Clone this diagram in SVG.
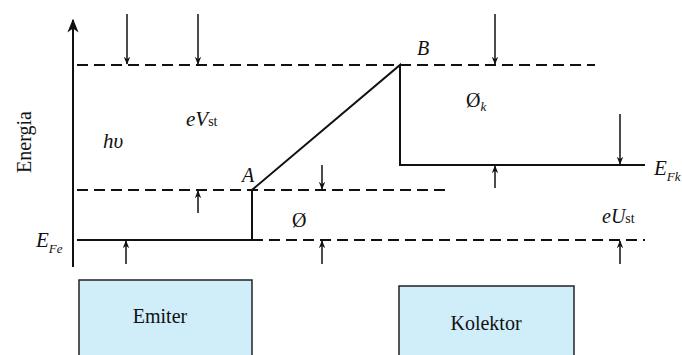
<svg xmlns="http://www.w3.org/2000/svg" width="682" height="355" viewBox="0 0 682 355">
<style>
.s{stroke:#111;stroke-width:2;fill:none}
.d{stroke:#111;stroke-width:2;fill:none;stroke-dasharray:11 6}
.a{stroke:#111;stroke-width:1.5;fill:none}
.t{fill:#111;font-family:'Liberation Serif','Times New Roman',Times,'DejaVu Serif',serif}
.i{font-style:italic}
.box{fill:#cfeefa;stroke:#222;stroke-width:1.5}
</style>
<defs>
<marker id="ah" viewBox="0 0 10 10" refX="9" refY="5" markerWidth="8" markerHeight="8" markerUnits="userSpaceOnUse" orient="auto"><path d="M0,1 L10,5 L0,9 L3,5 Z" fill="#111"/></marker>
<marker id="big" viewBox="0 0 10 10" refX="9" refY="5" markerWidth="14" markerHeight="14" markerUnits="userSpaceOnUse" orient="auto"><path d="M0,1 L10,5 L0,9 L3,5 Z" fill="#111"/></marker>
</defs>
<g id="axis">
<line class="s" x1="73" y1="267" x2="73" y2="20" marker-end="url(#big)"/>
<text class="t" font-size="20" transform="translate(31,142) rotate(-90)" text-anchor="middle">Energia</text>
</g>
<g id="levels">
<line class="d" x1="77" y1="65" x2="595" y2="65"/>
<line class="d" x1="77" y1="190" x2="445" y2="190"/>
<line class="d" x1="252" y1="240" x2="645" y2="240"/>
<polyline class="s" points="77,240 252,240 252,190 400,65 400,165 645,165"/>
</g>
<g id="connectors">
<line class="a" x1="127" y1="14" x2="127" y2="64" marker-end="url(#ah)"/>
<line class="a" x1="198" y1="14" x2="198" y2="64" marker-end="url(#ah)"/>
<line class="a" x1="495" y1="14" x2="495" y2="64" marker-end="url(#ah)"/>
<line class="a" x1="620" y1="114" x2="620" y2="164" marker-end="url(#ah)"/>
<line class="a" x1="322" y1="165" x2="322" y2="189" marker-end="url(#ah)"/>
<line class="a" x1="198" y1="213" x2="198" y2="191" marker-end="url(#ah)"/>
<line class="a" x1="495" y1="188" x2="495" y2="166" marker-end="url(#ah)"/>
<line class="a" x1="126" y1="264" x2="126" y2="241" marker-end="url(#ah)"/>
<line class="a" x1="322" y1="264" x2="322" y2="241" marker-end="url(#ah)"/>
<line class="a" x1="620" y1="264" x2="620" y2="241" marker-end="url(#ah)"/>
</g>
<g id="labels">
<text class="t i" x="103" y="148" font-size="21">hυ</text>
<text class="t" x="186" y="126" font-size="21"><tspan class="i">eV</tspan><tspan font-size="14">st</tspan></text>
<text class="t i" x="242" y="182" font-size="20">A</text>
<text class="t i" x="417" y="55" font-size="20">B</text>
<text class="t" x="292" y="227" font-size="20">Ø</text>
<text class="t" x="466" y="107" font-size="20">Ø<tspan class="i" font-size="13" dy="4">k</tspan></text>
<text class="t i" x="36" y="247" font-size="21">E<tspan font-size="13" dy="6">Fe</tspan></text>
<text class="t i" x="654" y="175" font-size="21">E<tspan font-size="13" dy="6">Fk</tspan></text>
<text class="t" x="602" y="223" font-size="20"><tspan class="i">eU</tspan><tspan font-size="14">st</tspan></text>
</g>
<g id="emiter">
<rect class="box" x="79" y="280" width="173" height="80"/>
<text class="t" x="160" y="323" font-size="20" text-anchor="middle">Emiter</text>
</g>
<g id="kolektor">
<rect class="box" x="399" y="286" width="175" height="80"/>
<text class="t" x="486" y="330" font-size="20" text-anchor="middle">Kolektor</text>
</g>
</svg>
